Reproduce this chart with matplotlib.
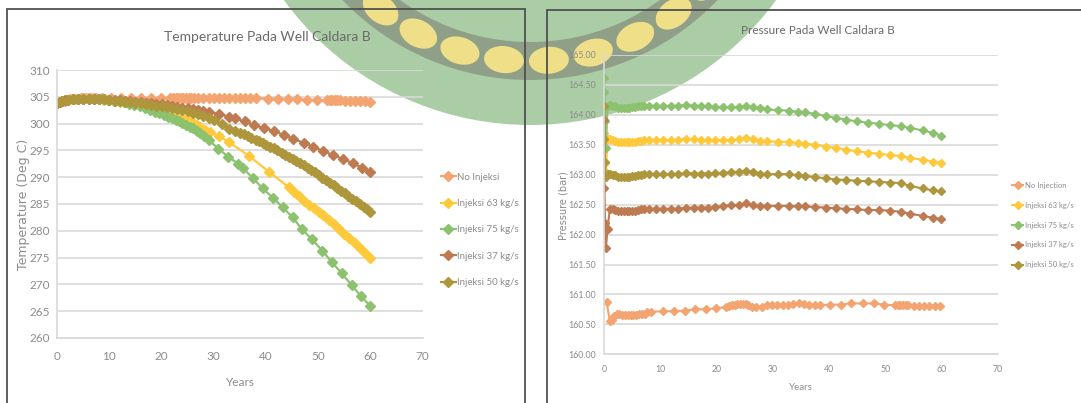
import numpy as np
import matplotlib
matplotlib.use("Agg")
import matplotlib.pyplot as plt
from matplotlib.patches import Rectangle, Circle, Annulus, Ellipse

plt.rcParams['font.family'] = ['Lato', 'DejaVu Sans']

# ---------------- data: temperature ----------------
series_names_t = ['No Injeksi', 'Injeksi 63 kg/s', 'Injeksi 75 kg/s', 'Injeksi 37 kg/s', 'Injeksi 50 kg/s']
series_names_p = ['No Injection', 'Injeksi 63 kg/s', 'Injeksi 75 kg/s', 'Injeksi 37 kg/s', 'Injeksi 50 kg/s']

t_noinj_years = [0, 0.3, 0.6, 1, 1.5, 2, 2.5, 3, 3.5, 4, 4.5, 5, 5.5, 6, 6.5, 7, 7.5, 8.5, 10.3, 12.3,
                 14.2, 16.1, 17.9, 19.8, 21.7, 22.2, 22.7, 23.2, 23.7, 24.2, 24.7, 25.2, 25.7, 26.2, 27,
                 28, 29, 30, 31, 32, 33, 34, 35, 36, 37, 38, 40.3, 42.3, 44.2, 46, 47.9, 49.8, 51.7,
                 52.2, 52.7, 53.2, 53.7, 54.2, 55.2, 56.2, 57.1, 58.1, 59, 60]
t_noinj = [303.9, 304.0, 304.1, 304.2, 304.3, 304.4, 304.5, 304.55, 304.6, 304.65, 304.7, 304.7, 304.75,
           304.75, 304.75, 304.75, 304.75, 304.75, 304.75, 304.75, 304.75, 304.75, 304.75, 304.75, 304.75,
           304.75, 304.75, 304.75, 304.75, 304.75, 304.75, 304.75, 304.75, 304.75, 304.75, 304.75, 304.75,
           304.75, 304.75, 304.75, 304.75, 304.75, 304.7, 304.7, 304.7, 304.7, 304.65, 304.6, 304.55,
           304.5, 304.45, 304.4, 304.35, 304.35, 304.35, 304.35, 304.35, 304.35, 304.3, 304.25, 304.2,
           304.2, 304.15, 304.1]

t63_years = [0, 0.5, 1, 1.5, 2, 3, 4, 5, 6, 7, 8, 9, 10, 11, 12, 13, 14, 15, 16, 17, 18, 19, 20, 21,
             21.7, 22.5, 23.2, 24, 24.7, 25.4, 26, 26.7, 27.3, 28.3, 29.3, 31.1, 33, 36.7, 40.6, 44.4,
             45.4, 46.4, 47.3, 48.2, 49.2, 50.1, 51, 52, 53, 54, 55, 56, 57, 58, 59, 60]
t63 = [303.9, 304.1, 304.25, 304.35, 304.45, 304.55, 304.6, 304.6, 304.6, 304.55, 304.5, 304.45, 304.35,
       304.25, 304.1, 304.0, 303.85, 303.7, 303.5, 303.3, 303.05, 302.8, 302.5, 302.2, 301.9, 301.6,
       301.3, 301.0, 300.7, 300.4, 300.2, 299.8, 299.4, 298.8, 298.4, 297.6, 296.5, 294.0, 291.0, 288.1,
       287.3, 286.5, 285.6, 284.9, 284.2, 283.5, 282.9, 282.0, 281.2, 280.3, 279.4, 278.6, 277.7, 276.8,
       275.9, 275.0]

t75_years = [0, 0.5, 1, 1.5, 2, 3, 4, 5, 6, 7, 8, 8.8, 9.8, 10.8, 11.8, 12.8, 13.8, 14.8, 15.8, 16.8,
             17.8, 18.7, 19.6, 20.4, 21.2, 22, 22.7, 23.3, 24, 24.7, 25.4, 26, 26.7, 27.3, 28.2, 29,
             30.9, 32.8, 34.7, 35.6, 37.5, 39.4, 41.3, 43.2, 45.1, 46.9, 48.8, 50.8, 52.6, 54.5, 56.4,
             58.2, 60]
t75 = [303.9, 304.1, 304.25, 304.35, 304.45, 304.55, 304.6, 304.6, 304.6, 304.6, 304.55, 304.5, 304.4,
       304.3, 304.15, 304.0, 303.75, 303.5, 303.25, 303.0, 302.6, 302.25, 301.9, 301.6, 301.3, 301.0,
       300.7, 300.4, 300.05, 299.7, 299.4, 299.1, 298.7, 298.3, 297.7, 297.0, 295.3, 293.8, 292.5,
       291.7, 289.8, 287.9, 286.2, 284.4, 282.5, 280.3, 278.4, 276.3, 274.2, 272.1, 269.9, 267.8, 266.0]

t37_years = [0, 0.5, 1, 1.5, 2, 3, 4, 5, 6, 7, 8, 9, 10, 11, 12, 13, 14, 15, 16, 17, 18, 19, 20, 21,
             22, 23, 24, 25, 26, 27, 28, 29, 31, 33, 34, 35.9, 37.8, 39.7, 41.5, 43.4, 45.2, 47.2, 49,
             50.9, 52.9, 54.7, 56.7, 58.5, 60]
t37 = [303.9, 304.1, 304.25, 304.35, 304.45, 304.55, 304.6, 304.65, 304.65, 304.6, 304.55, 304.5,
       304.45, 304.4, 304.35, 304.3, 304.2, 304.1, 304.0, 303.9, 303.8, 303.7, 303.6, 303.45, 303.3,
       303.15, 303.0, 302.85, 302.7, 302.55, 302.4, 302.2, 301.8, 301.3, 301.0, 300.4, 299.7, 299.2,
       298.6, 297.9, 297.2, 296.4, 295.7, 294.9, 294.1, 293.4, 292.6, 291.7, 290.9]

t50_years = [0, 1, 2, 3, 4, 5, 6, 7, 8, 9, 10, 11, 12, 13, 14, 15, 16, 17, 18, 19, 20, 21, 22, 23, 24,
             25, 26, 27, 28, 29, 30, 31.5, 33, 34, 35, 35.7, 36.5, 37.2, 38, 38.7, 39.4, 40.1, 40.8,
             41.5, 42.2, 43, 43.7, 44.4, 45.1, 45.8, 46.5, 47.2, 48, 48.7, 49.4, 50.1, 50.8, 51.5, 52.2,
             53, 53.7, 54.4, 55.1, 55.8, 56.5, 57.2, 58, 58.7, 59.4, 60]
t50 = [303.9, 304.2, 304.4, 304.55, 304.6, 304.6, 304.6, 304.6, 304.55, 304.5, 304.4, 304.3, 304.2,
       304.1, 304.0, 303.9, 303.8, 303.65, 303.5, 303.35, 303.2, 303.05, 302.9, 302.7, 302.5, 302.3,
       302.05, 301.8, 301.5, 301.1, 300.7, 299.9, 299.0, 298.6, 298.3, 298.0, 297.7, 297.3, 297.0,
       296.7, 296.4, 296.1, 295.7, 295.4, 295.0, 294.6, 294.2, 293.8, 293.4, 293.0, 292.6, 292.2,
       291.8, 291.4, 291.0, 290.4, 289.9, 289.5, 289.0, 288.5, 288.0, 287.5, 287.0, 286.5, 286.0,
       285.5, 285.0, 284.5, 284.0, 283.5]

# ---------------- data: pressure ----------------
p_years = [0, 0.05, 0.15, 0.3, 0.6, 1.0, 1.5, 2, 2.5, 3, 3.5, 4, 4.5, 5, 5.5, 6, 6.5, 7,
           8, 9.2, 10.5, 11.8, 13.2, 14.6, 15.9, 17.2, 18.5, 19.8, 21.2, 22.5, 23.9, 25.2, 26.5,
           27.8, 29, 31, 32.8, 34.5, 35.7, 37.5, 39.5, 41.2, 43.1, 45, 47, 48.9, 50.9, 52.8, 54.5,
           56.7, 58.5, 60]
p75 = [164.62, 164.38, 163.9, 163.45, 164.15, 164.16, 164.15, 164.14, 164.12, 164.11, 164.11, 164.12,
       164.12, 164.13, 164.13, 164.14, 164.14, 164.15,
       164.15, 164.15, 164.15, 164.15, 164.15, 164.17, 164.15, 164.14, 164.14, 164.13, 164.13, 164.13,
       164.13, 164.15, 164.13, 164.11, 164.09, 164.08, 164.07, 164.05, 164.04, 164.02, 163.98, 163.95,
       163.92, 163.89, 163.87, 163.85, 163.83, 163.81, 163.78, 163.74, 163.70, 163.65]
p63 = [163.70, 163.45, 163.20, 163.05, 163.60, 163.60, 163.58, 163.56, 163.55, 163.55, 163.55, 163.55,
       163.55, 163.55, 163.55, 163.56, 163.57, 163.58,
       163.58, 163.58, 163.58, 163.58, 163.58, 163.60, 163.59, 163.58, 163.58, 163.58, 163.58, 163.58,
       163.59, 163.62, 163.59, 163.57, 163.56, 163.55, 163.55, 163.53, 163.52, 163.50, 163.47, 163.45,
       163.42, 163.39, 163.37, 163.35, 163.33, 163.31, 163.28, 163.25, 163.22, 163.19]
p37 = [163.91, 162.78, 162.20, 161.77, 162.10, 162.43, 162.42, 162.41, 162.40, 162.40, 162.40, 162.40,
       162.40, 162.40, 162.40, 162.41, 162.42, 162.43,
       162.43, 162.43, 162.43, 162.43, 162.43, 162.45, 162.45, 162.45, 162.45, 162.46, 162.48, 162.49,
       162.50, 162.52, 162.49, 162.48, 162.48, 162.48, 162.48, 162.47, 162.47, 162.46, 162.45, 162.44,
       162.43, 162.42, 162.41, 162.41, 162.40, 162.38, 162.35, 162.31, 162.28, 162.26]
p50 = [164.15, 163.60, 163.22, 162.97, 163.02, 163.02, 163.00, 162.99, 162.97, 162.96, 162.96, 162.97,
       162.97, 162.98, 162.98, 162.99, 163.00, 163.01,
       163.01, 163.01, 163.01, 163.01, 163.01, 163.03, 163.02, 163.02, 163.02, 163.03, 163.03, 163.04,
       163.05, 163.07, 163.05, 163.02, 163.01, 163.01, 163.01, 162.99, 162.98, 162.96, 162.94, 162.92,
       162.91, 162.90, 162.89, 162.88, 162.87, 162.86, 162.81, 162.77, 162.74, 162.72]

p_noinj_years = [0.44, 0.98, 1.3, 1.8, 2.2, 2.7, 3.2, 3.7, 4.2, 4.7, 5.2, 5.7, 6.2, 6.7, 7.2, 7.6, 8.4,
                 10.4, 12.4, 14.3, 16.2, 18.1, 19.9, 21.7, 22.2, 22.7, 23.2, 23.7, 24.2, 24.7, 25.2,
                 25.6, 26.3, 27, 28, 28.9, 29.9, 30.8, 31.8, 32.7, 33.6, 34.6, 35.5, 36.5, 37.5, 38.4,
                 40.1, 42.1, 44, 46, 48, 49.8, 51.7, 52.2, 52.7, 53.2, 53.7, 54, 55.1, 56, 56.9, 57.8,
                 58.8, 59.8]
p_noinj = [160.87, 160.56, 160.57, 160.64, 160.67, 160.67, 160.66, 160.65, 160.65, 160.65, 160.65,
           160.66, 160.67, 160.67, 160.68, 160.70, 160.71, 160.72, 160.72, 160.73, 160.75, 160.75,
           160.77, 160.79, 160.81, 160.82, 160.83, 160.84, 160.84, 160.84, 160.84, 160.82, 160.79,
           160.79, 160.79, 160.82, 160.83, 160.83, 160.83, 160.83, 160.84, 160.85, 160.84, 160.82,
           160.82, 160.82, 160.83, 160.83, 160.85, 160.85, 160.85, 160.83, 160.82, 160.82, 160.82,
           160.82, 160.82, 160.82, 160.81, 160.81, 160.81, 160.81, 160.81, 160.81]

colors = ['#F4A470', '#FFC93C', '#8CC26E', '#BE7A50', '#AE963C']
txt = '#8c8c8c'
grid = '#d9d9d9'

W, H = 1081, 403
fig = plt.figure(figsize=(W / 100, H / 100), dpi=100)

# watermark (background logo arc)
wm = fig.add_axes([0, 0, 1, 1], zorder=-1)
wm.set_xlim(0, W)
wm.set_ylim(H, 0)
wm.axis('off')
cx, cy = 530, -180
wm.add_patch(Circle((cx, cy), 305, facecolor='#9cc596', edgecolor='none', alpha=0.85))
wm.add_patch(Annulus((cx, cy), 260, 38, facecolor='#8c9783', edgecolor='none', alpha=0.85))
for th in np.arange(32, 160, 10.7):
    r = np.deg2rad(th)
    wm.add_patch(Ellipse((cx + 241 * np.cos(r), cy + 241 * np.sin(r)), 40, 27, angle=th + 90,
                         facecolor='#f4e388', edgecolor='none', alpha=0.95))

# panel frames
fig.patches.append(Rectangle((6.9 / W, -0.1), (525 - 6.9) / W, 1.1 - 9 / H, transform=fig.transFigure,
                             fill=False, edgecolor='#505050', lw=1.3, zorder=5))
fig.patches.append(Rectangle((547 / W, -0.1), 0.6, 1.1 - 10 / H, transform=fig.transFigure,
                             fill=False, edgecolor='#505050', lw=1.3, zorder=5))


def style_axes(ax, fs, pad_x, pad_y):
    ax.set_facecolor('none')
    for s in ['top', 'right']:
        ax.spines[s].set_visible(False)
    for s in ['left', 'bottom']:
        ax.spines[s].set_color(grid)
        ax.spines[s].set_linewidth(1.2)
    ax.grid(axis='y', color=grid, lw=1.2)
    ax.set_axisbelow(True)
    ax.tick_params(length=0, labelsize=fs, colors=txt)
    ax.tick_params(axis='x', pad=pad_x)
    ax.tick_params(axis='y', pad=pad_y)
    ax.set_xlim(0, 70)
    ax.set_xticks(range(0, 71, 10))


# ---------------- temperature ----------------
ax1 = fig.add_axes([57.2 / W, 1 - 338 / H, (422.5 - 57.2) / W, (338 - 70) / H])
style_axes(ax1, 8.5, 9, 5)
ax1.set_ylim(260, 310)
ax1.set_yticks(range(260, 311, 5))
t_data = [(t_noinj_years, t_noinj), (t63_years, t63), (t75_years, t75), (t37_years, t37), (t50_years, t50)]
for (x, y), c, n in zip(t_data, colors, series_names_t):
    ax1.plot(x, y, color=c, lw=1.6, marker='D', ms=4.8, label=n)

fig.text(267 / W, 1 - 37 / H, 'Temperature Pada Well Caldara B', ha='center', va='center',
         fontsize=10, color='#6a6a6a')
fig.text(240 / W, 1 - 382 / H, 'Years', ha='center', va='center', fontsize=8.5, color=txt)
fig.text(24 / W, 1 - 204 / H, 'Temperature (Deg C)', rotation=90, ha='center', va='center',
         fontsize=9, color=txt, family='DejaVu Sans')
h, l = ax1.get_legend_handles_labels()
fig.legend(h, l, loc='center left', bbox_to_anchor=(441 / W, 1 - 230 / H), frameon=False,
           fontsize=7, labelcolor=txt, handlelength=1.5, handletextpad=0.15, labelspacing=1.78,
           borderpad=0, borderaxespad=0)

# ---------------- pressure ----------------
ax2 = fig.add_axes([604.2 / W, 1 - 354.3 / H, (997.6 - 604.2) / W, (354.3 - 55) / H])
style_axes(ax2, 6.3, 8, 6)
ax2.set_ylim(160, 165)
ax2.set_yticks(np.arange(160, 165.01, 0.5))
ax2.yaxis.set_major_formatter(matplotlib.ticker.FormatStrFormatter('%.2f'))
p_data = [(p_noinj_years, p_noinj), (p_years, p63), (p_years, p75), (p_years, p37), (p_years, p50)]
for (x, y), c, n in zip(p_data, colors, series_names_p):
    ax2.plot(x, y, color=c, lw=1.5, marker='D', ms=4, label=n)

fig.text(818 / W, 1 - 31 / H, 'Pressure Pada Well Caldara B', ha='center', va='center',
         fontsize=8.5, color='#6a6a6a')
fig.text(801 / W, 1 - 388 / H, 'Years', ha='center', va='center', fontsize=7, color=txt)
fig.text(563 / W, 1 - 206 / H, 'Pressure (bar)', rotation=90, ha='center', va='center',
         fontsize=7, color=txt, family='DejaVu Sans')
h, l = ax2.get_legend_handles_labels()
fig.legend(h, l, loc='center left', bbox_to_anchor=(1012 / W, 1 - 225 / H), frameon=False,
           fontsize=5.5, labelcolor=txt, handlelength=1.5, handletextpad=0.15, labelspacing=1.7,
           borderpad=0, borderaxespad=0)

fig.savefig('out.png', dpi=100)
